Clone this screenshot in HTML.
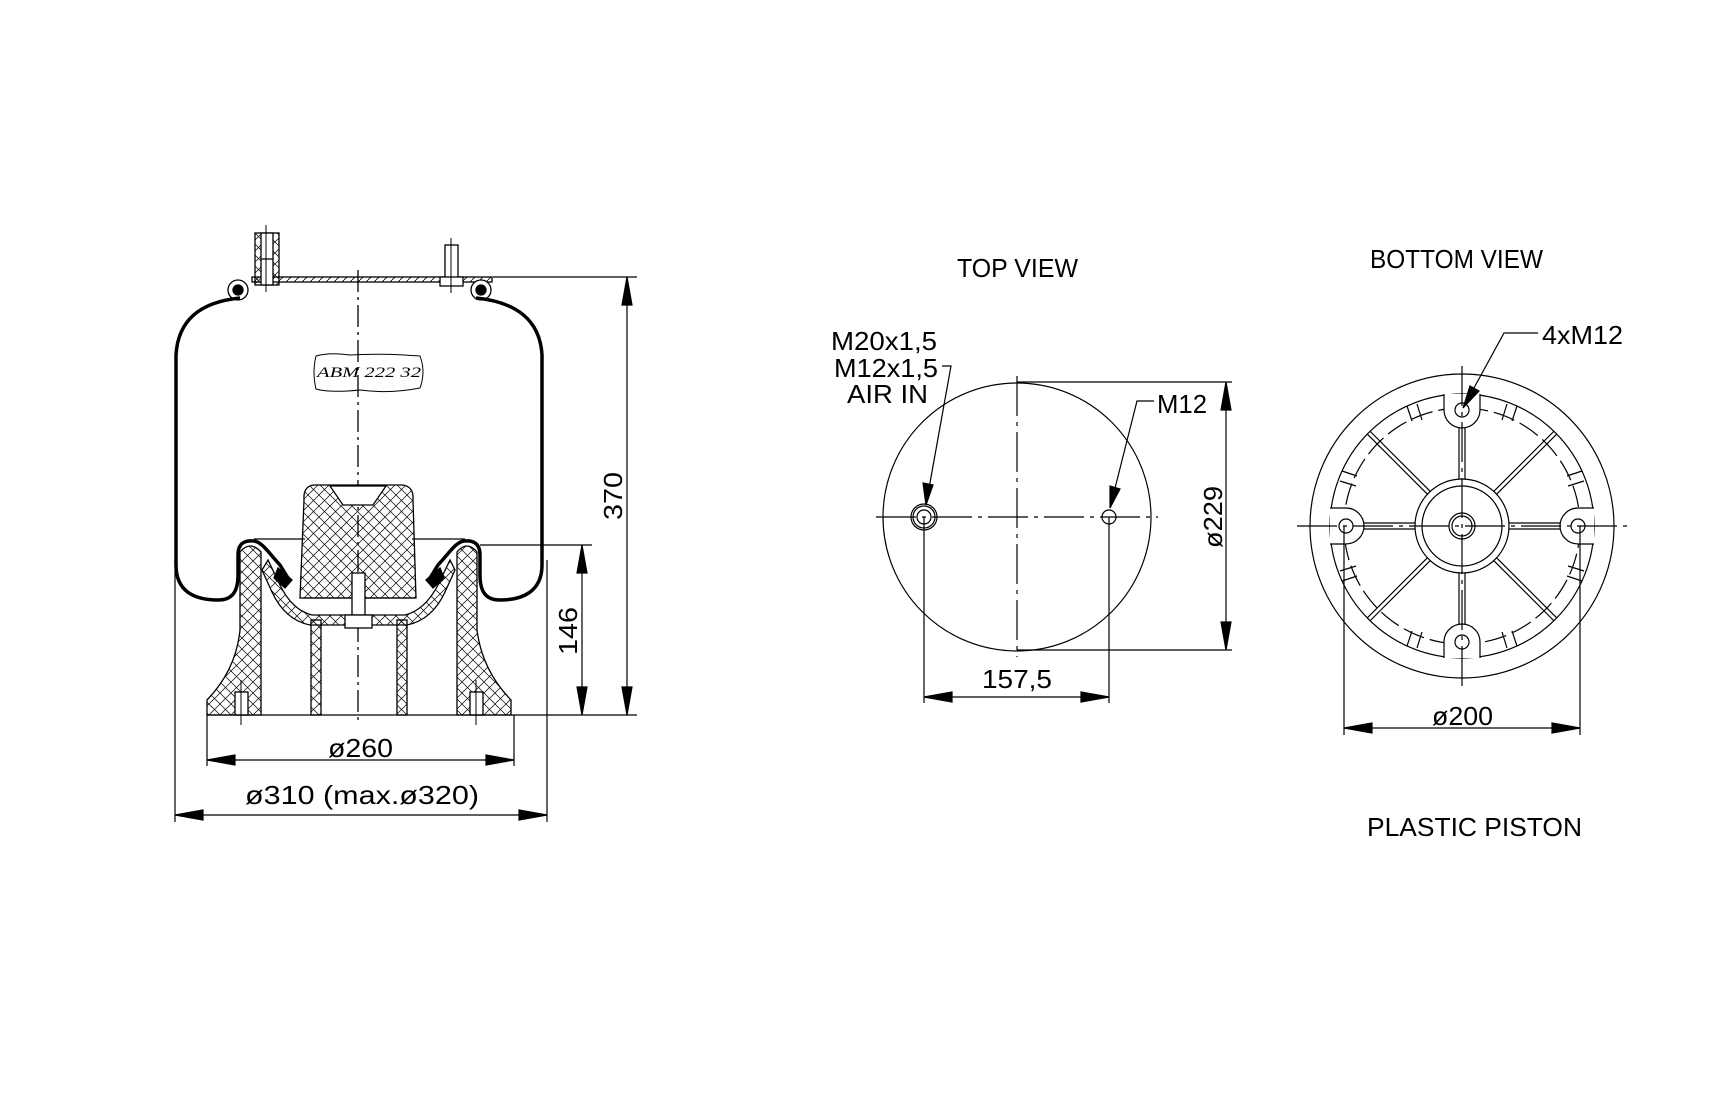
<!DOCTYPE html>
<html><head><meta charset="utf-8"><style>html,body{margin:0;padding:0;background:#fff}svg{display:block}</style></head>
<body>
<svg width="1723" height="1115" viewBox="0 0 1723 1115" xmlns="http://www.w3.org/2000/svg" font-family="Liberation Sans, sans-serif" fill="none" stroke="#000">
<defs>
<pattern id="x" width="11" height="11" patternUnits="userSpaceOnUse">
<path d="M0,0 L11,11 M11,0 L0,11" stroke="#000" stroke-width="0.7"/>
</pattern>
<pattern id="h" width="8" height="8" patternUnits="userSpaceOnUse">
<path d="M0,8 L8,0" stroke="#000" stroke-width="0.8"/>
</pattern>
</defs>
<rect width="1723" height="1115" fill="#fff" stroke="none"/>

<!-- ===== LEFT SIDE VIEW ===== -->
<g stroke-width="1.3">
<line x1="358" y1="270" x2="358" y2="720" stroke-dasharray="22 5 3 5"/>
<rect x="252" y="277" width="240" height="5" fill="url(#h)"/>
<rect x="255" y="233" width="24" height="52" fill="url(#x)"/>
<rect x="261" y="233" width="12" height="52" fill="#fff"/>
<line x1="261" y1="259" x2="273" y2="259"/>
<line x1="266" y1="225" x2="266" y2="292" stroke-width="1"/>
<rect x="445" y="245" width="13" height="33" fill="#fff"/>
<rect x="440" y="277" width="23" height="9" fill="#fff"/>
<line x1="451" y1="238" x2="451" y2="293" stroke-width="1"/>
<circle cx="238" cy="290" r="10" fill="#fff"/>
<circle cx="238" cy="290" r="5" fill="#000"/>
<circle cx="481" cy="290" r="10" fill="#fff"/>
<circle cx="481" cy="290" r="5" fill="#000"/>
<path d="M240,298 C200,302 178,320 176,355 L176,565 C176,592 195,600 218,600 C232,600 238,592 238,575 L238,555 C238,543 245,540 254,541 C262,542 268,552 280,565 L288,578" stroke-width="3.5"/>
<path d="M476,298 C516,302 540,320 542,355 L542,565 C542,592 522,600 500,600 C486,600 480,592 480,575 L480,555 C480,543 473,540 464,541 C456,542 450,552 438,565 L430,578" stroke-width="3.5"/>
<path d="M278,568 L292,580 L285,588 L274,578 Z" fill="#000"/>
<path d="M440,568 L426,580 L433,588 L444,578 Z" fill="#000"/>
<line x1="254" y1="539" x2="305" y2="539"/>
<line x1="412" y1="539" x2="465" y2="539"/>
<path d="M316,356 Q330,352 350,355 Q380,353 420,356 Q426,372 420,388 Q390,394 360,390 Q330,393 316,389 Q312,372 316,356 Z" stroke-width="1"/>
<text x="317" y="377" font-family="Liberation Serif, serif" font-style="italic" font-size="15" fill="#000" stroke="none" textLength="104" lengthAdjust="spacingAndGlyphs">ABM  222  32</text>
<path d="M207,715 L207,700 Q236,670 240,630 L240,552 Q250,540 261,552 L261,715 Z" fill="url(#x)"/>
<path d="M511,715 L511,700 Q482,670 477,630 L477,552 Q467,540 457,552 L457,715 Z" fill="url(#x)"/>
<path d="M268,560 L280,585 Q292,610 312,615 L405,615 Q425,610 438,585 L450,560 L455,570 L445,592 Q432,620 407,625 L310,625 Q285,620 272,592 L262,570 Z" fill="url(#x)"/>
<rect x="311" y="620" width="10" height="95" fill="url(#x)"/>
<rect x="397" y="620" width="10" height="95" fill="url(#x)"/>
<path d="M314,485 L402,485 Q414,486 413,500 L416,598 L300,598 L304,500 Q303,486 314,485 Z" fill="url(#x)"/>
<path d="M330,486 L343,505 L373,505 L386,486 Z" fill="#fff"/>
<line x1="303" y1="598" x2="415" y2="598"/>
<rect x="352" y="573" width="13" height="42" fill="#fff"/>
<rect x="345" y="615" width="27" height="13" fill="#fff"/>
<rect x="235" y="692" width="13" height="23" fill="#fff"/>
<rect x="470" y="692" width="13" height="23" fill="#fff"/>
<line x1="241" y1="680" x2="241" y2="725" stroke-width="1"/>
<line x1="476" y1="680" x2="476" y2="725" stroke-width="1"/>
<line x1="207" y1="715" x2="637" y2="715"/>
</g>

<g stroke-width="1.2">
<line x1="493" y1="277" x2="637" y2="277"/>
<line x1="627" y1="277" x2="627" y2="715"/>
<path d="M627,277 L622,305 L632,305 Z M627,715 L622,687 L632,687 Z" fill="#000"/>
<line x1="480" y1="545" x2="592" y2="545"/>
<line x1="582" y1="545" x2="582" y2="715"/>
<path d="M582,545 L577,573 L587,573 Z M582,715 L577,687 L587,687 Z" fill="#000"/>
<line x1="207" y1="715" x2="207" y2="766"/>
<line x1="514" y1="715" x2="514" y2="766"/>
<line x1="207" y1="760" x2="514" y2="760"/>
<path d="M207,760 L235,755 L235,765 Z M514,760 L486,755 L486,765 Z" fill="#000"/>
<line x1="175" y1="560" x2="175" y2="822"/>
<line x1="547" y1="560" x2="547" y2="822"/>
<line x1="175" y1="815" x2="547" y2="815"/>
<path d="M175,815 L203,810 L203,820 Z M547,815 L519,810 L519,820 Z" fill="#000"/>
</g>
<g fill="#000" stroke="none" font-size="26">
<text x="328" y="757" textLength="65" lengthAdjust="spacingAndGlyphs">ø260</text>
<text x="245" y="804" textLength="234" lengthAdjust="spacingAndGlyphs">ø310 (max.ø320)</text>
<text transform="translate(622,520) rotate(-90)" textLength="48" lengthAdjust="spacingAndGlyphs">370</text>
<text transform="translate(577,655) rotate(-90)" textLength="48" lengthAdjust="spacingAndGlyphs">146</text>
</g>

<!-- ===== TOP VIEW ===== -->
<g stroke-width="1.2">
<circle cx="1017" cy="517" r="134"/>
<line x1="876" y1="517" x2="1158" y2="517" stroke-dasharray="40 6 4 6"/>
<line x1="1017" y1="376" x2="1017" y2="657" stroke-dasharray="40 6 4 6"/>
<circle cx="924" cy="517" r="13"/>
<circle cx="924" cy="517" r="11"/>
<circle cx="924" cy="517" r="7"/>
<circle cx="1109" cy="517" r="7"/>
<line x1="1017" y1="382" x2="1232" y2="382"/>
<line x1="1017" y1="650" x2="1232" y2="650"/>
<line x1="1226" y1="382" x2="1226" y2="650"/>
<path d="M1226,382 L1221,410 L1231,410 Z M1226,650 L1221,622 L1231,622 Z" fill="#000"/>
<line x1="924" y1="517" x2="924" y2="703"/>
<line x1="1109" y1="517" x2="1109" y2="703"/>
<line x1="924" y1="697" x2="1109" y2="697"/>
<path d="M924,697 L952,692 L952,702 Z M1109,697 L1081,692 L1081,702 Z" fill="#000"/>
<polyline points="942,366 951,366 926,505"/>
<path d="M926,505 L923,483 L933,485 Z" fill="#000"/>
<polyline points="1154,401 1137,401 1110,508"/>
<path d="M1110,508 L1110,486 L1120,489 Z" fill="#000"/>
</g>
<g fill="#000" stroke="none" font-size="26">
<text x="957" y="277" textLength="121" lengthAdjust="spacingAndGlyphs">TOP VIEW</text>
<text x="831" y="350" textLength="106" lengthAdjust="spacingAndGlyphs">M20x1,5</text>
<text x="834" y="377" textLength="104" lengthAdjust="spacingAndGlyphs">M12x1,5</text>
<text x="847" y="403" textLength="81" lengthAdjust="spacingAndGlyphs">AIR IN</text>
<text x="1157" y="413" textLength="50" lengthAdjust="spacingAndGlyphs">M12</text>
<text x="982" y="688" textLength="70" lengthAdjust="spacingAndGlyphs">157,5</text>
<text transform="translate(1222,548) rotate(-90)" textLength="62" lengthAdjust="spacingAndGlyphs">ø229</text>
</g>

<!-- ===== BOTTOM VIEW ===== -->
<g stroke-width="1.2">
<circle cx="1462" cy="526" r="152"/>
<g transform="translate(1462,526)">
<circle r="132"/>
<circle r="118" stroke-dasharray="22 6"/>
<circle r="47"/>
<circle r="40"/>
<circle r="13"/>
<circle r="10"/>
<g id="rib">
<line x1="-3" y1="-47" x2="-3" y2="-98"/>
<line x1="3" y1="-47" x2="3" y2="-98"/>
<path d="M-18,-132 L-18,-116 A18,18 0 0,0 18,-116 L18,-132" fill="#fff"/>
<circle cy="-116" r="7"/>
<path d="M-55,-120 L-50,-105 M-45,-122 L-40,-106 M55,-120 L50,-105 M45,-122 L40,-106"/>
</g>
<use href="#rib" transform="rotate(90)"/>
<use href="#rib" transform="rotate(180)"/>
<use href="#rib" transform="rotate(270)"/>
<g id="drib" transform="rotate(45)">
<line x1="-2" y1="-47" x2="-2" y2="-132"/>
<line x1="2" y1="-47" x2="2" y2="-132"/>
</g>
<use href="#drib" transform="rotate(90)"/>
<use href="#drib" transform="rotate(180)"/>
<use href="#drib" transform="rotate(270)"/>
<line x1="-165" y1="0" x2="165" y2="0" stroke-dasharray="40 6 4 6"/>
<line x1="0" y1="-160" x2="0" y2="160" stroke-dasharray="40 6 4 6"/>
</g>
<line x1="1344" y1="526" x2="1344" y2="735"/>
<line x1="1580" y1="526" x2="1580" y2="735"/>
<line x1="1344" y1="728" x2="1580" y2="728"/>
<path d="M1344,728 L1372,723 L1372,733 Z M1580,728 L1552,723 L1552,733 Z" fill="#000"/>
<polyline points="1538,333 1504,333 1463,408"/>
<path d="M1463,408 L1470,386 L1479,391 Z" fill="#000"/>
</g>
<g fill="#000" stroke="none" font-size="26">
<text x="1370" y="268" textLength="173" lengthAdjust="spacingAndGlyphs">BOTTOM VIEW</text>
<text x="1542" y="344" textLength="81" lengthAdjust="spacingAndGlyphs">4xM12</text>
<text x="1432" y="725" textLength="61" lengthAdjust="spacingAndGlyphs">ø200</text>
<text x="1367" y="836" textLength="215" lengthAdjust="spacingAndGlyphs">PLASTIC PISTON</text>
</g>
</svg>
</body></html>
